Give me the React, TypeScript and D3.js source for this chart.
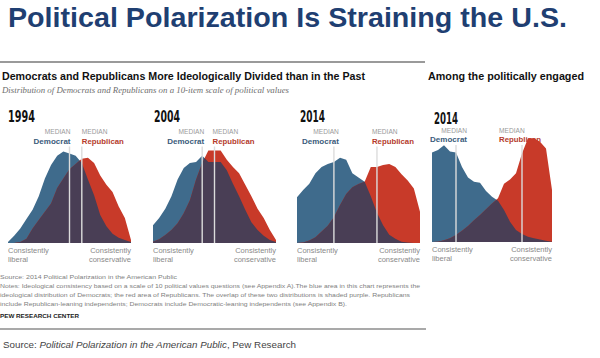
import React from 'react';
import * as d3 from 'd3';

// ---------- DATA ----------
const scalePoints = [-10, -9, -8, -7, -6, -5, -4, -3, -2, -1, 0, 1, 2, 3, 4, 5, 6, 7, 8, 9, 10];

const dem1994 = [1, 7, 14, 23, 32, 45, 62, 75, 84, 88, 86, 84, 77, 61, 46, 27, 16, 9, 5, 3, 1];
const rep1994 = [0, 0, 1, 4, 14, 22, 30, 38, 53, 62, 71, 76, 81, 82, 77, 65, 56, 49, 35, 24, 3];

const dem2004 = [17, 24, 33, 45, 61, 72, 77, 78, 84, 78, 78, 78, 70, 57, 45, 32, 20, 12.5, 7, 3, 1];
const rep2004 = [1.3, 3.5, 7.7, 12.5, 19, 28.5, 41, 61, 77, 89, 89, 89, 80, 73, 67, 56, 45, 33, 24, 12.5, 3];

const dem2014 = [44, 51, 57, 67, 73, 76, 78, 82, 80, 67, 63, 59, 45, 29, 17, 8, 4, 1.3, 0.5, 0, 0];
const rep2014 = [0, 0.5, 2.3, 5.6, 11, 16.5, 24.7, 36.5, 47, 53.5, 56.7, 59, 73, 73, 75, 76, 73, 66, 60, 52.5, 30];

const demEngaged = [86, 88.5, 93, 87, 86, 72, 62, 58, 57, 49, 43.6, 39.7, 30.8, 19.5, 11.5, 7.7, 5, 3.5, 2.5, 1.3, 0.3];
const repEngaged = [0, 0.3, 1.6, 3.5, 6.7, 10.9, 15.4, 21, 26, 31.4, 37, 42, 56, 60, 66, 85, 99.7, 99.7, 96.5, 90, 50];

const panelYears = ['1994', '2004', '2014', '2014'];
const demMedians = [0, -2, -4, -6];
const repMedians = [2, 0, 3, 5];
const demSeries = [dem1994, dem2004, dem2014, demEngaged];
const repSeries = [rep1994, rep2004, rep2014, repEngaged];

const footNotes = [
  'Notes: Ideological consistency based on a scale of 10 political values questions (see Appendix A).The blue area in this chart represents the',
  'ideological distribution of Democrats; the red area of Republicans. The overlap of these two distributions is shaded purple. Republicans',
  'include Republican-leaning independents; Democrats include Democratic-leaning independents (see Appendix B).',
];

// ---------- LAYOUT ----------
const W = 600, H = 358;
const boxes = [
  { x0: 8, x1: 131, base: 243, yearX: 8, yearY: 122, yearW: 27, yearFs: 16.5, labY: 0, demDx: 1, repDx: 0 },
  { x0: 153, x1: 276, base: 243, yearX: 154, yearY: 122, yearW: 26, yearFs: 16.5, labY: 0, demDx: 2, repDx: -2 },
  { x0: 297, x1: 420, base: 243, yearX: 300, yearY: 122, yearW: 25, yearFs: 16.5, labY: 0, demDx: 5, repDx: -5 },
  { x0: 432, x1: 552, base: 242, yearX: 434, yearY: 124, yearW: 24, yearFs: 15, labY: -1.5, demDx: 11, repDx: -23 },
];

const C = {
  dem: '#3f6b8c',
  rep: '#c83a29',
  both: '#493e55',
  demText: '#3a5b7b',
  repText: '#b43a2b',
  median: '#dcdcdc',
  gray: '#8a8a8a',
};

function overlap(xs: number[], a: number[], b: number[]): [number, number][] {
  const pts: [number, number][] = [];
  for (let i = 0; i < xs.length; i++) {
    pts.push([xs[i], Math.min(a[i], b[i])]);
    if (i < xs.length - 1) {
      const d0 = a[i] - b[i];
      const d1 = a[i + 1] - b[i + 1];
      if (d0 * d1 < 0) {
        const t = d0 / (d0 - d1);
        pts.push([xs[i] + t * (xs[i + 1] - xs[i]), a[i] + t * (a[i + 1] - a[i])]);
      }
    }
  }
  return pts;
}

const SANS = "'Liberation Sans', Arial, sans-serif";
const NARROW = "'Liberation Sans Narrow', 'DejaVu Sans Condensed', 'Roboto Condensed', sans-serif";

function Panel({ idx }: { idx: number }) {
  const b = boxes[idx];
  const dem = demSeries[idx];
  const rep = repSeries[idx];
  const x = d3.scaleLinear().domain([-10, 10]).range([b.x0, b.x1]);
  const y = d3.scaleLinear().domain([0, 100]).range([b.base, b.base - 104]);
  const area = d3
    .area<[number, number]>()
    .x((d) => x(d[0]))
    .y0(b.base)
    .y1((d) => y(d[1]))
    .curve(d3.curveLinear);
  const demPts = scalePoints.map((s, i) => [s, dem[i]] as [number, number]);
  const repPts = scalePoints.map((s, i) => [s, rep[i]] as [number, number]);
  const bothPts = overlap(scalePoints, dem, rep);
  const dmx = x(demMedians[idx]);
  const rmx = x(repMedians[idx]);
  const ly = b.labY;
  return (
    <g>
      <text x={b.yearX} y={b.yearY} fontFamily={NARROW} fontWeight="bold" fontSize={b.yearFs} fill="#111" textLength={b.yearW} lengthAdjust="spacingAndGlyphs">
        {panelYears[idx]}
      </text>
      <text x={dmx + b.demDx} y={134 + ly} textAnchor="end" fontFamily={SANS} fontSize={6.6} fill="#9a9a9a">MEDIAN</text>
      <text x={dmx + b.demDx} y={143.5 + ly} textAnchor="end" fontFamily={SANS} fontWeight="bold" fontSize={8} fill={C.demText}>Democrat</text>
      <text x={rmx + b.repDx} y={134 + ly} textAnchor="start" fontFamily={SANS} fontSize={6.6} fill="#9a9a9a">MEDIAN</text>
      <text x={rmx + b.repDx} y={143.5 + ly} textAnchor="start" fontFamily={SANS} fontWeight="bold" fontSize={7.8} fill={C.repText}>Republican</text>
      <path d={area(demPts) || ''} fill={C.dem} />
      <path d={area(repPts) || ''} fill={C.rep} />
      <path d={area(bothPts) || ''} fill={C.both} />
      <line x1={dmx} x2={dmx} y1={146.5 + ly} y2={b.base} stroke={C.median} strokeWidth={1.4} />
      <line x1={rmx} x2={rmx} y1={146.5 + ly} y2={b.base} stroke={C.median} strokeWidth={1.4} />
      <text x={b.x0} y={b.base + 10} fontFamily={SANS} fontSize={7.5} fill={C.gray}>Consistently</text>
      <text x={b.x0} y={b.base + 18.5} fontFamily={SANS} fontSize={7.5} fill={C.gray}>liberal</text>
      <text x={b.x1} y={b.base + 10} textAnchor="end" fontFamily={SANS} fontSize={7.5} fill={C.gray}>Consistently</text>
      <text x={b.x1} y={b.base + 18.5} textAnchor="end" fontFamily={SANS} fontSize={7.5} fill={C.gray}>conservative</text>
    </g>
  );
}

export default function App() {
  return (
    <svg width={W} height={H} viewBox={`0 0 ${W} ${H}`} style={{ position: 'absolute', left: 0, top: 0, background: '#fff' }}>
      <rect x={0} y={0} width={W} height={H} fill="#fff" />
      <text x={8} y={27} fontFamily={SANS} fontWeight="bold" fontSize={28.5} fill="#1f3f72" textLength={559} lengthAdjust="spacingAndGlyphs">
        Political Polarization Is Straining the U.S.
      </text>
      <line x1={0} x2={425} y1={62} y2={62} stroke="#9a9a9a" strokeWidth={1.8} />
      <text x={2} y={80} fontFamily={SANS} fontWeight="bold" fontSize={10.7} fill="#111" textLength={363} lengthAdjust="spacingAndGlyphs">
        Democrats and Republicans More Ideologically Divided than in the Past
      </text>
      <text x={428} y={80} fontFamily={SANS} fontWeight="bold" fontSize={10.7} fill="#111" textLength={156} lengthAdjust="spacingAndGlyphs">
        Among the politically engaged
      </text>
      <text x={2} y={93} fontFamily="'Liberation Serif', 'DejaVu Serif', serif" fontStyle="italic" fontSize={9} fill="#6e6e6e" textLength={287} lengthAdjust="spacingAndGlyphs">
        Distribution of Democrats and Republicans on a 10-item scale of political values
      </text>
      {boxes.map((_, i) => (
        <Panel key={i} idx={i} />
      ))}
      <text x={0} y={279} fontFamily={SANS} fontSize={6.2} fill="#808080" textLength={177} lengthAdjust="spacingAndGlyphs">
        Source: 2014 Political Polarization in the American Public
      </text>
      {footNotes.map((t, i) => (
        <text key={i} x={0} y={288 + i * 9} fontFamily={SANS} fontSize={6.2} fill="#808080" textLength={[420, 410, 347][i]} lengthAdjust="spacingAndGlyphs">
          {t}
        </text>
      ))}
      <text x={0} y={318} fontFamily={SANS} fontWeight="bold" fontSize={6.2} fill="#222" textLength={79} lengthAdjust="spacingAndGlyphs">
        PEW RESEARCH CENTER
      </text>
      <line x1={0} x2={426} y1={329} y2={329} stroke="#555" strokeWidth={1.2} />
      <text x={3} y={348} fontFamily={SANS} fontSize={9.8} fill="#444" textLength={293} lengthAdjust="spacingAndGlyphs">
        <tspan>Source: </tspan>
        <tspan fontStyle="italic">Political Polarization in the American Public</tspan>
        <tspan>, Pew Research</tspan>
      </text>
    </svg>
  );
}
